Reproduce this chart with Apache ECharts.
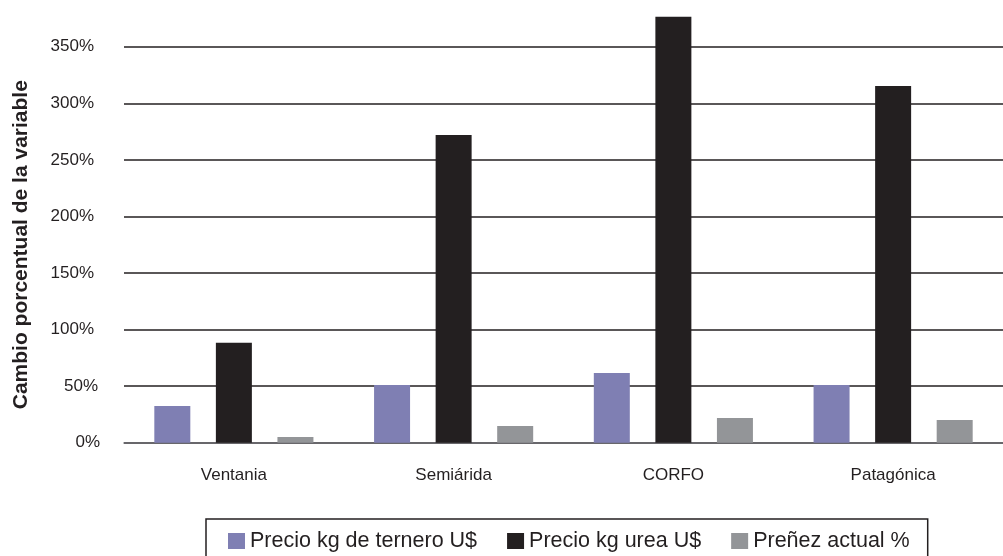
<!DOCTYPE html>
<html>
<head>
<meta charset="utf-8">
<script src="https://cdn.jsdelivr.net/npm/echarts@6/dist/echarts.min.js"></script>
<style>
  html, body { margin: 0; padding: 0; background: #ffffff; }
  #chart { width: 1003px; height: 556px; }
</style>
</head>
<body>
<div id="chart"></div>
<script>
// Regions compared
const categories = ['Ventania', 'Semiárida', 'CORFO', 'Patagónica'];

// Percentage change of each variable per region
const precioTernero = [32.4, 51, 61.6, 51];
const precioUrea = [88.4, 272, 376.5, 315.3];
const prenezActual = [5, 14.8, 21.8, 20.1];

const seriesNames = ['Precio kg de ternero U$', 'Precio kg urea U$', 'Preñez actual %'];
const seriesColors = ['#7f7fb3', '#231f20', '#939598'];

// Y axis ticks (percent)
const yMin = 0;
const yMax = 350;
const yStep = 50;

const font = '"Liberation Sans", Arial, sans-serif';
const ink = '#231f20';

const chart = echarts.init(document.getElementById('chart'), null, { renderer: 'canvas' });

const values = [precioTernero, precioUrea, prenezActual];

chart.setOption({
  animation: false,
  backgroundColor: '#ffffff',
  grid: { left: 124, right: 0, top: 46.7, height: 396 },
  legend: {
    data: seriesNames,
    left: 206,
    top: 519,
    orient: 'horizontal',
    icon: 'rect',
    itemWidth: 17,
    itemHeight: 16,
    itemGap: 30,
    padding: [11, 18, 6, 22],
    borderColor: ink,
    borderWidth: 1.5,
    textStyle: { fontFamily: font, fontSize: 21.5, color: ink }
  },
  xAxis: {
    type: 'category',
    data: categories,
    axisTick: { show: false },
    axisLine: { show: true, lineStyle: { color: '#6d6e71', width: 1.5 } },
    axisLabel: { margin: 24, fontFamily: font, fontSize: 17, color: ink },
    splitLine: { show: false }
  },
  yAxis: {
    type: 'value',
    min: yMin,
    max: yMax,
    interval: yStep,
    name: 'Cambio porcentual de la variable',
    nameLocation: 'middle',
    nameRotate: 90,
    nameGap: 92,
    nameTextStyle: { fontFamily: font, fontSize: 21, fontWeight: 'bold', color: ink },
    axisLine: { show: false },
    axisTick: { show: false },
    axisLabel: {
      margin: 24,
      formatter: function (v) {
        const s = v + '%';
        if (s.length >= 4) return '{w3|' + s + '}';
        if (s.length === 3) return '{w2|' + s + '}';
        return '{w1|' + s + '}';
      },
      rich: {
        w3: { fontFamily: font, fontSize: 17, color: ink, padding: [0, 6, 0, 0] },
        w2: { fontFamily: font, fontSize: 17, color: ink, padding: [0, 2, 0, 0] },
        w1: { fontFamily: font, fontSize: 17, color: ink }
      }
    },
    splitLine: { show: true, lineStyle: { color: ink, width: 1.5 } }
  },
  series: seriesNames.map(function (name, i) {
    return {
      name: name,
      type: 'bar',
      data: values[i],
      barWidth: 36,
      barGap: '71%',
      clip: false,
      itemStyle: { color: seriesColors[i] }
    };
  })
});
</script>
</body>
</html>
